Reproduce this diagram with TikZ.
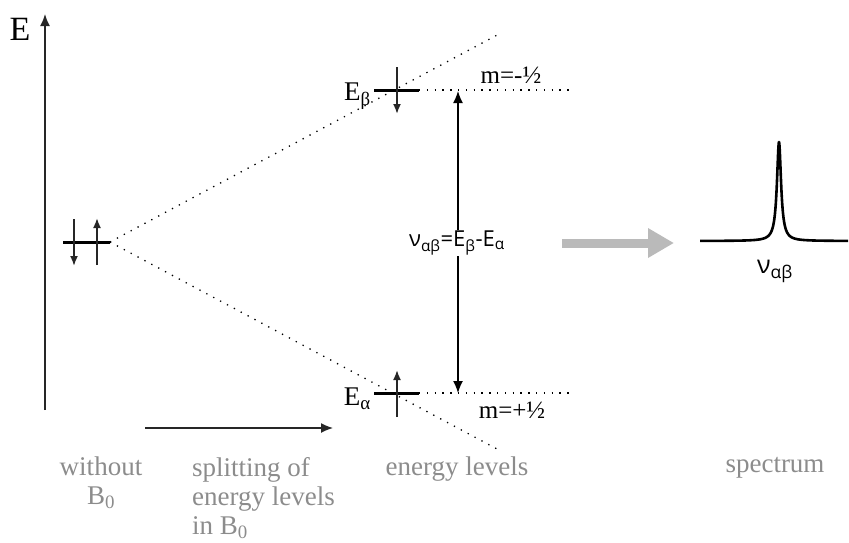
\documentclass[tikz,border=0pt]{standalone}
\usepackage{fontspec}
\setmainfont{Liberation Serif}
\newfontfamily\formulafont{Open Sans}
\usetikzlibrary{arrows.meta}
\colorlet{colCaption}{black!45}
\colorlet{colTransfer}{black!27}

\begin{document}
\begin{tikzpicture}[x=1pt, y=-1pt,
        level/.style={line width=3pt},
        spin/.style={-{Latex[length=10pt,width=8pt]}, line width=1.8pt, draw=black!85},
        axis/.style={-{Latex[length=12pt,width=10pt]}, line width=1.6pt, draw=black!85},
        gap/.style={dash pattern=on 1.3pt off 6.5pt, line width=1.3pt},
        trans/.style={{Latex[length=12pt,width=10pt]}-{Latex[length=12pt,width=10pt]}, line width=1.4pt},
        caption/.style={font=\fontsize{27}{29}\selectfont, text=colCaption, inner sep=0pt},
        lbl/.style={font=\fontsize{27}{30}\selectfont, inner sep=0pt},
        frm/.style={font=\formulafont\fontsize{22}{26}\selectfont, inner sep=1pt}
    ]
    \useasboundingbox (0,0) rectangle (849,542);

    % Energieachse
    \coordinate (axisfoot) at (45,410);
    \coordinate (axistop) at (45,14);
    \draw[axis] (axisfoot) -- (axistop);
    \node[font=\fontsize{34}{34}\selectfont, inner sep=0pt] (elabel) at (20,29) {E};

    % Niveau ohne Feld
    \coordinate (freeW) at (63,242);
    \coordinate (split) at (110,242);
    \draw[level] (freeW) -- (split);
    \draw[spin] (74,219) -- (74,266);
    \draw[spin] (97,265) -- (97,218);

    % Aufspaltung
    \coordinate (upperend) at (499,34);
    \coordinate (lowerend) at (497,449);
    \draw[gap] (split) -- (upperend);
    \draw[gap] (split) -- (lowerend);

    % Niveau beta
    \coordinate (betaW) at (374,90);
    \coordinate (betaE) at (419,90);
    \coordinate (betaend) at (570,90);
    \draw[level] (betaW) -- (betaE);
    \draw[gap] (betaE) -- (betaend);
    \draw[spin] (397,67) -- (397,114);
    \node[lbl, anchor=east] (ebeta) at (371,96) {E\textsubscript{β}};
    \node[font=\fontsize{25}{28}\selectfont, inner sep=0pt] (mminus) at (511,75) {m=-½};

    % Niveau alpha
    \coordinate (alphaW) at (374,393);
    \coordinate (alphaE) at (419,393);
    \coordinate (alphaend) at (570,393);
    \draw[level] (alphaW) -- (alphaE);
    \draw[gap] (alphaE) -- (alphaend);
    \draw[spin] (397,417) -- (397,370);
    \node[lbl, anchor=east] (ealpha) at (371,399) {E\textsubscript{α}};
    \node[font=\fontsize{25}{28}\selectfont, inner sep=0pt] (mplus) at (512,410) {m=+½};

    % Uebergang
    \coordinate (transtop) at (458,91);
    \coordinate (transbot) at (458,393);
    \draw[trans] (transtop) -- (transbot);
    \node[frm, fill=white] (resonance) at (457,243) {ν\textsubscript{αβ}=E\textsubscript{β}-E\textsubscript{α}};

    % Pfeil zum Spektrum
    \coordinate (toward) at (562,243);
    \coordinate (arrival) at (674,243);
    \draw[-{Triangle[length=26pt,width=28pt]}, line width=9pt, draw=colTransfer] (toward) -- (arrival);

    % Spektrum
    \draw[line width=2.6pt, line join=round] plot[domain=700:848, samples=593] (\x, {241 - 99*6.25/((\x-779)^2+6.25)});
    \node[frm, font=\formulafont\fontsize{25}{28}\selectfont] (peaklabel) at (775,271) {ν\textsubscript{αβ}};

    % Feldrichtung
    \coordinate (fieldstart) at (145,428);
    \coordinate (fieldend) at (333,428);
    \draw[axis, line width=1.4pt] (fieldstart) -- (fieldend);

    % Beschriftungen
    \node[caption, align=center, anchor=north] (nofield) at (101,457) {without\\B\textsubscript{0}};
    \node[caption, align=left, anchor=north west] (splitting) at (192,457) {splitting of\\energy levels\\in B\textsubscript{0}};
    \node[caption, anchor=north] (levels) at (457,457) {energy levels};
    \node[caption, anchor=north] (spectrum) at (775,457) {spectrum};

    \end{tikzpicture}
\end{document}
